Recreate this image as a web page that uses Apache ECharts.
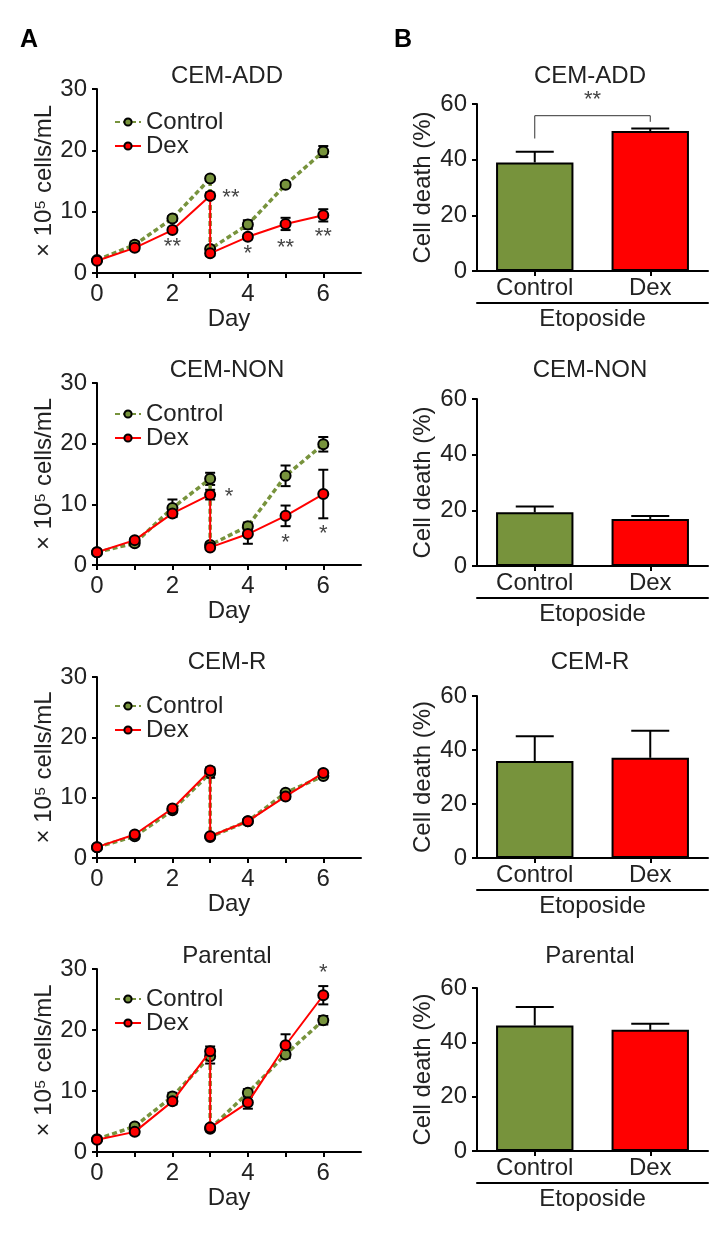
<!DOCTYPE html>
<html><head><meta charset="utf-8">
<script src="https://cdn.jsdelivr.net/npm/echarts@6/dist/echarts.min.js"></script>
<style>html,body{margin:0;padding:0;background:#fff}#c{width:725px;height:1233px}</style>
</head><body><div id="c"></div>
<script>
// ---------- data ----------
const days = [0, 1, 2, 3, 3, 4, 5, 6];
const lineTitles = ['CEM-ADD', 'CEM-NON', 'CEM-R', 'Parental'];
const seriesNames = ['Control', 'Dex'];
const xTickValues = [0, 1, 2, 3, 4, 5, 6];
const xLabelValues = [0, 2, 4, 6];

const addCtrl    = [2.1, 4.6, 8.9, 15.4, 3.9, 7.9, 14.4, 19.8];
const addCtrlErr = [0.3, 0.5, 0.4, 0.4, 0.4, 0.7, 0.4, 0.9];
const addDex     = [2.0, 4.1, 7.0, 12.6, 3.2, 5.9, 8.0, 9.4];
const addDexErr  = [0.3, 0.4, 0.4, 0.5, 0.4, 0.4, 1.0, 1.0];
const addSigX    = [2, 3.55, 4, 5, 6];
const addSigY    = [4.2, 12.3, 3.1, 4.1, 5.8];
const addSigText = ['**', '**', '*', '**', '**'];

const nonCtrl    = [2.1, 3.6, 9.4, 14.2, 3.3, 6.4, 14.7, 19.9];
const nonCtrlErr = [0.2, 0.4, 1.4, 1.0, 0.4, 0.6, 1.7, 1.2];
const nonDex     = [2.1, 4.1, 8.5, 11.6, 2.9, 5.1, 8.1, 11.7];
const nonDexErr  = [0.2, 0.3, 0.6, 0.8, 0.3, 1.6, 1.7, 4.0];
const nonSigX    = [3.5, 5, 6];
const nonSigY    = [11.2, 3.6, 5.1];
const nonSigText = ['*', '*', '*'];

const rCtrl      = [1.8, 3.6, 7.9, 14.1, 3.5, 6.1, 10.8, 13.6];
const rCtrlErr   = [0.2, 0.3, 0.3, 0.8, 0.3, 0.3, 0.3, 0.4];
const rDex       = [1.8, 3.9, 8.2, 14.5, 3.6, 6.1, 10.2, 14.1];
const rDexErr    = [0.2, 0.3, 0.3, 0.5, 0.3, 0.3, 0.4, 0.4];
const rSigX = [], rSigY = [], rSigText = [];

const parCtrl    = [2.1, 4.2, 9.1, 15.7, 3.8, 9.7, 16.0, 21.6];
const parCtrlErr = [0.3, 0.4, 0.6, 1.2, 0.4, 0.6, 0.6, 0.7];
const parDex     = [2.0, 3.3, 8.3, 16.5, 4.0, 8.1, 17.5, 25.7];
const parDexErr  = [0.3, 0.4, 0.5, 0.8, 0.4, 1.0, 1.8, 1.5];
const parSigX    = [6];
const parSigY    = [29.4];
const parSigText = ['*'];

const barCategories = ['Control', 'Dex'];
const addBar    = [39.0, 50.3];
const addBarErr = [3.8, 0.9];
const nonBar    = [19.3, 16.9];
const nonBarErr = [2.1, 1.1];
const rBar      = [35.9, 37.1];
const rBarErr   = [9.2, 10.0];
const parBar    = [46.2, 44.6];
const parBarErr = [6.8, 2.2];
const barGroupLabel = 'Etoposide';
const bracketY = 55.8;
const bracketLegs = [47.6, 53.6];
const bracketTextY = 61.5;
const bracketText = '**';

// ---------- layout ----------
const FONT = '"Liberation Sans", Arial, sans-serif';
const TXT = '#222';
const GREEN = '#77933c', RED = '#ff0000';
const lineGrids = [
  {left: 97, top: 89, width: 264, height: 184},
  {left: 97, top: 383, width: 264, height: 182},
  {left: 97, top: 677, width: 264, height: 181},
  {left: 97, top: 969, width: 264, height: 183}
];
const barGrids = [
  {left: 477, top: 104, width: 231, height: 167},
  {left: 477, top: 399, width: 231, height: 167},
  {left: 477, top: 696, width: 231, height: 162},
  {left: 477, top: 988, width: 231, height: 163}
];
const titleY = [76, 370, 662, 956];
const legendTop = [105, 397, 689, 982];

const lineSets = [
  {c: addCtrl, ce: addCtrlErr, d: addDex, de: addDexErr, sx: addSigX, sy: addSigY, st: addSigText},
  {c: nonCtrl, ce: nonCtrlErr, d: nonDex, de: nonDexErr, sx: nonSigX, sy: nonSigY, st: nonSigText},
  {c: rCtrl, ce: rCtrlErr, d: rDex, de: rDexErr, sx: rSigX, sy: rSigY, st: rSigText},
  {c: parCtrl, ce: parCtrlErr, d: parDex, de: parDexErr, sx: parSigX, sy: parSigY, st: parSigText}
];
const barSets = [
  {v: addBar, e: addBarErr}, {v: nonBar, e: nonBarErr}, {v: rBar, e: rBarErr}, {v: parBar, e: parBarErr}
];

function errRender(capHalf, both) {
  return function (params, api) {
    const x = api.value(0), y = api.value(1), e = api.value(2);
    const hi = api.coord([x, y + e]);
    const lo = both ? api.coord([x, y - e]) : api.coord([x, y]);
    const st = {stroke: '#000', lineWidth: 2};
    const ch = [
      {type: 'line', shape: {x1: lo[0], y1: lo[1], x2: hi[0], y2: hi[1]}, style: st},
      {type: 'line', shape: {x1: hi[0] - capHalf, y1: hi[1], x2: hi[0] + capHalf, y2: hi[1]}, style: st}
    ];
    if (both) ch.push({type: 'line', shape: {x1: lo[0] - capHalf, y1: lo[1], x2: lo[0] + capHalf, y2: lo[1]}, style: st});
    return {type: 'group', children: ch};
  };
}

const grid = lineGrids.concat(barGrids);
const xAxis = [], yAxis = [], series = [], legend = [], graphic = [];
const axisLineStyle = {color: '#000', width: 2};

lineSets.forEach((s, i) => {
  xAxis.push({
    gridIndex: i, type: 'value', min: 0, max: 7, interval: 1,
    axisLine: {show: true, lineStyle: axisLineStyle},
    axisTick: {show: true, length: 5, lineStyle: axisLineStyle, customValues: xTickValues},
    axisLabel: {fontSize: 24, color: TXT, fontFamily: FONT, margin: 9, customValues: xLabelValues},
    splitLine: {show: false},
    name: 'Day', nameLocation: 'middle', nameGap: 33,
    nameTextStyle: {fontSize: 24, color: TXT, fontFamily: FONT}
  });
  yAxis.push({
    gridIndex: i, type: 'value', min: 0, max: 30, interval: 10,
    axisLine: {show: true, lineStyle: axisLineStyle},
    axisTick: {show: true, length: 5, lineStyle: axisLineStyle},
    axisLabel: {fontSize: 24, color: TXT, fontFamily: FONT, margin: 10},
    splitLine: {show: false},
    name: '× 10⁵ cells/mL', nameLocation: 'middle', nameGap: 39, nameRotate: 90,
    nameTextStyle: {fontSize: 24, color: TXT, fontFamily: FONT}
  });
  series.push({
    type: 'custom', name: 'errC' + i, xAxisIndex: i, yAxisIndex: i, z: 2, silent: true,
    renderItem: errRender(5, true), encode: {x: 0, y: 1},
    data: days.map((d, j) => [d, s.c[j], s.ce[j]])
  });
  series.push({
    type: 'custom', name: 'errD' + i, xAxisIndex: i, yAxisIndex: i, z: 2, silent: true,
    renderItem: errRender(5, true), encode: {x: 0, y: 1},
    data: days.map((d, j) => [d, s.d[j], s.de[j]])
  });
  series.push({
    type: 'line', name: 'Control', xAxisIndex: i, yAxisIndex: i, z: 3,
    symbol: 'circle', symbolSize: 10,
    lineStyle: {color: GREEN, width: 3.5, type: [5, 3]},
    itemStyle: {color: GREEN, borderColor: '#000', borderWidth: 2},
    data: days.map((d, j) => [d, s.c[j]])
  });
  series.push({
    type: 'line', name: 'Dex', xAxisIndex: i, yAxisIndex: i, z: 4,
    symbol: 'circle', symbolSize: 10,
    lineStyle: {color: RED, width: 2},
    itemStyle: {color: RED, borderColor: '#000', borderWidth: 2},
    data: days.map((d, j) => [d, s.d[j]])
  });
  if (s.sx.length) {
    const texts = s.st;
    series.push({
      type: 'custom', name: 'sig' + i, xAxisIndex: i, yAxisIndex: i, z: 5, silent: true,
      encode: {x: 0, y: 1},
      renderItem: function (params, api) {
        const p = api.coord([api.value(0), api.value(1)]);
        return {type: 'text', x: p[0], y: p[1], style: {
          text: texts[params.dataIndex], fill: '#444', fontSize: 22, fontFamily: FONT,
          align: 'center', verticalAlign: 'middle'}};
      },
      data: s.sx.map((x, j) => [x, s.sy[j]])
    });
  }
  legend.push({
    data: seriesNames, orient: 'vertical', left: 109, top: legendTop[i],
    itemWidth: 26, itemHeight: 9, itemGap: 0, selectedMode: false,
    textStyle: {fontSize: 24, color: TXT, fontFamily: FONT, lineHeight: 22}
  });
  graphic.push({type: 'text', x: 227, y: titleY[i], style: {
    text: lineTitles[i], fontSize: 24, fontFamily: FONT, fill: TXT, align: 'center', verticalAlign: 'middle'}});
});

barSets.forEach((s, k) => {
  const gi = 4 + k;
  const xi = xAxis.length;
  xAxis.push({
    gridIndex: gi, type: 'category', data: barCategories,
    axisLine: {show: true, lineStyle: axisLineStyle},
    axisTick: {show: true, alignWithLabel: true, length: 5, lineStyle: axisLineStyle},
    axisLabel: {fontSize: 24, color: TXT, fontFamily: FONT, margin: 5}
  });
  xAxis.push({
    gridIndex: gi, type: 'category', data: barCategories, position: 'bottom', offset: 32,
    axisLine: {show: true, lineStyle: {color: '#000', width: 2}},
    axisTick: {show: false}, axisLabel: {show: false},
    name: barGroupLabel, nameLocation: 'middle', nameGap: 4,
    nameTextStyle: {fontSize: 24, color: TXT, fontFamily: FONT, verticalAlign: 'top'}
  });
  const yi = yAxis.length;
  yAxis.push({
    gridIndex: gi, type: 'value', min: 0, max: 60, interval: 20,
    axisLine: {show: true, lineStyle: axisLineStyle},
    axisTick: {show: true, length: 5, lineStyle: axisLineStyle},
    axisLabel: {fontSize: 24, color: TXT, fontFamily: FONT, margin: 10},
    splitLine: {show: false},
    name: 'Cell death (%)', nameLocation: 'middle', nameGap: 42, nameRotate: 90,
    nameTextStyle: {fontSize: 24, color: TXT, fontFamily: FONT}
  });
  series.push({
    type: 'bar', name: 'bar' + k, xAxisIndex: xi, yAxisIndex: yi, barWidth: '67%', z: 2,
    itemStyle: {borderColor: '#000', borderWidth: 2},
    data: s.v.map((v, j) => ({value: v, itemStyle: {color: j === 0 ? GREEN : RED}}))
  });
  series.push({
    type: 'custom', name: 'barErr' + k, xAxisIndex: xi, yAxisIndex: yi, z: 3, silent: true,
    renderItem: errRender(19, false), encode: {x: 0, y: 1},
    data: s.v.map((v, j) => [j, v, s.e[j]])
  });
  graphic.push({type: 'text', x: 590, y: titleY[k], style: {
    text: lineTitles[k], fontSize: 24, fontFamily: FONT, fill: TXT, align: 'center', verticalAlign: 'middle'}});
  if (k === 0) {
    series.push({
      type: 'custom', name: 'bracket', xAxisIndex: xi, yAxisIndex: yi, z: 4, silent: true,
      encode: {x: 0, y: 1}, clip: false,
      renderItem: function (params, api) {
        const a = api.coord([0, bracketY]), b = api.coord([1, bracketY]);
        const la = api.coord([0, bracketLegs[0]]), lb = api.coord([1, bracketLegs[1]]);
        const t = api.coord([0.5, bracketTextY]);
        const st = {stroke: '#333', lineWidth: 1};
        return {type: 'group', children: [
          {type: 'polyline', shape: {points: [la, a, b, lb]}, style: Object.assign({fill: null}, st)},
          {type: 'text', x: (a[0] + b[0]) / 2, y: t[1], style: {text: bracketText, fill: '#444', fontSize: 22,
            fontFamily: FONT, align: 'center', verticalAlign: 'middle'}}
        ]};
      },
      data: [[0, bracketY]]
    });
  }
});

graphic.push({type: 'text', x: 20, y: 40, style: {text: 'A', fontSize: 25, fontWeight: 'bold', fontFamily: FONT, fill: '#000', verticalAlign: 'middle'}});
graphic.push({type: 'text', x: 394, y: 40, style: {text: 'B', fontSize: 25, fontWeight: 'bold', fontFamily: FONT, fill: '#000', verticalAlign: 'middle'}});

const chart = echarts.init(document.getElementById('c'), null, {renderer: 'canvas'});
chart.setOption({animation: false, backgroundColor: '#fff', grid, xAxis, yAxis, series, legend, graphic});
</script></body></html>
